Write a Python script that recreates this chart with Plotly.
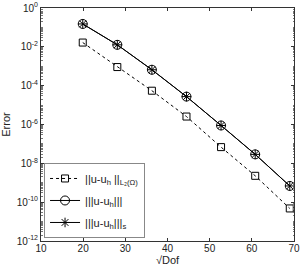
import plotly.graph_objects as go

sqrt_dof = [19.9, 28.1, 36.3, 44.5, 52.7, 60.8, 69.0]
err_L2 = [1.66e-2, 9.1e-4, 5.5e-5, 2.57e-6, 6.85e-8, 2.28e-9, 4.75e-11]
err_energy = [1.51e-1, 1.27e-2, 6.6e-4, 2.73e-5, 8.9e-7, 2.9e-8, 6.85e-10]
err_s = [1.51e-1, 1.27e-2, 6.6e-4, 2.73e-5, 8.9e-7, 2.9e-8, 6.85e-10]

y_major = [10.0 ** k for k in range(0, -13, -2)]
y_labels = ["10<sup>%d</sup>" % k for k in range(0, -13, -2)]
x_ticks = [10, 20, 30, 40, 50, 60, 70]

minor_vals = []
for k in range(-12, 0):
    for m in range(1, 10):
        v = m * 10.0 ** k
        if m == 1 and k % 2 == 0:
            continue
        minor_vals.append(v)

FONT = "Liberation Sans, Arial, sans-serif"
AX = "#333333"

fig = go.Figure()
fig.add_trace(go.Scatter(
    x=sqrt_dof, y=err_L2, mode="lines+markers", legendgroup="a",
    name="||u-u<sub>h</sub> ||<sub>L₂(Ω)</sub>",
    line=dict(color="black", width=1, dash="3px,3px"),
    marker=dict(symbol="square-open", size=7, color="black", line=dict(width=1))))
fig.add_trace(go.Scatter(
    x=sqrt_dof, y=err_energy, mode="lines+markers", legendgroup="b",
    name="|||u-u<sub>h</sub>|||",
    line=dict(color="black", width=1),
    marker=dict(symbol="circle-open", size=9, color="black", line=dict(width=1))))
fig.add_trace(go.Scatter(
    x=sqrt_dof, y=err_s, mode="lines+markers", legendgroup="c",
    name="|||u-u<sub>h</sub>|||<sub>s</sub>",
    line=dict(color="black", width=1),
    marker=dict(symbol="asterisk-open", size=8, color="black", line=dict(width=1, color="black"))))

fig.update_layout(
    width=300, height=273, autosize=False,
    margin=dict(l=41, r=6, t=8, b=32),
    paper_bgcolor="white", plot_bgcolor="white",
    font=dict(family=FONT, size=10, color="#222222"),
    showlegend=True,
    legend=dict(x=0.012, y=0.013, xanchor="left", yanchor="bottom",
                bgcolor="white", bordercolor="#888888", borderwidth=1,
                font=dict(size=11, family=FONT), tracegroupgap=3,
                itemwidth=30),
)
fig.update_xaxes(
    range=[10, 70], tickvals=x_ticks, ticks="inside", ticklen=3,
    showline=True, linecolor=AX, linewidth=1, mirror="ticks",
    showgrid=False, zeroline=False, tickcolor=AX, ticklabelstandoff=-2,
    automargin=False,
    title=dict(text="√Dof", standoff=0, font=dict(size=11)),
)
fig.update_yaxes(
    type="log", range=[-12, 0], tickvals=y_major, ticktext=y_labels,
    ticks="inside", ticklen=3, tickcolor=AX,
    showline=True, linecolor=AX, linewidth=1, mirror="ticks",
    showgrid=False, zeroline=False, automargin=False,
    minor=dict(tickvals=minor_vals, ticks="inside", ticklen=1.5, tickcolor="#777777", showgrid=False),
    title=dict(text="Error", standoff=4, font=dict(size=11)),
)

fig.write_html("out.html", config={"displayModeBar": False},
               post_script="document.body.style.margin='0';document.body.style.padding='0';")
